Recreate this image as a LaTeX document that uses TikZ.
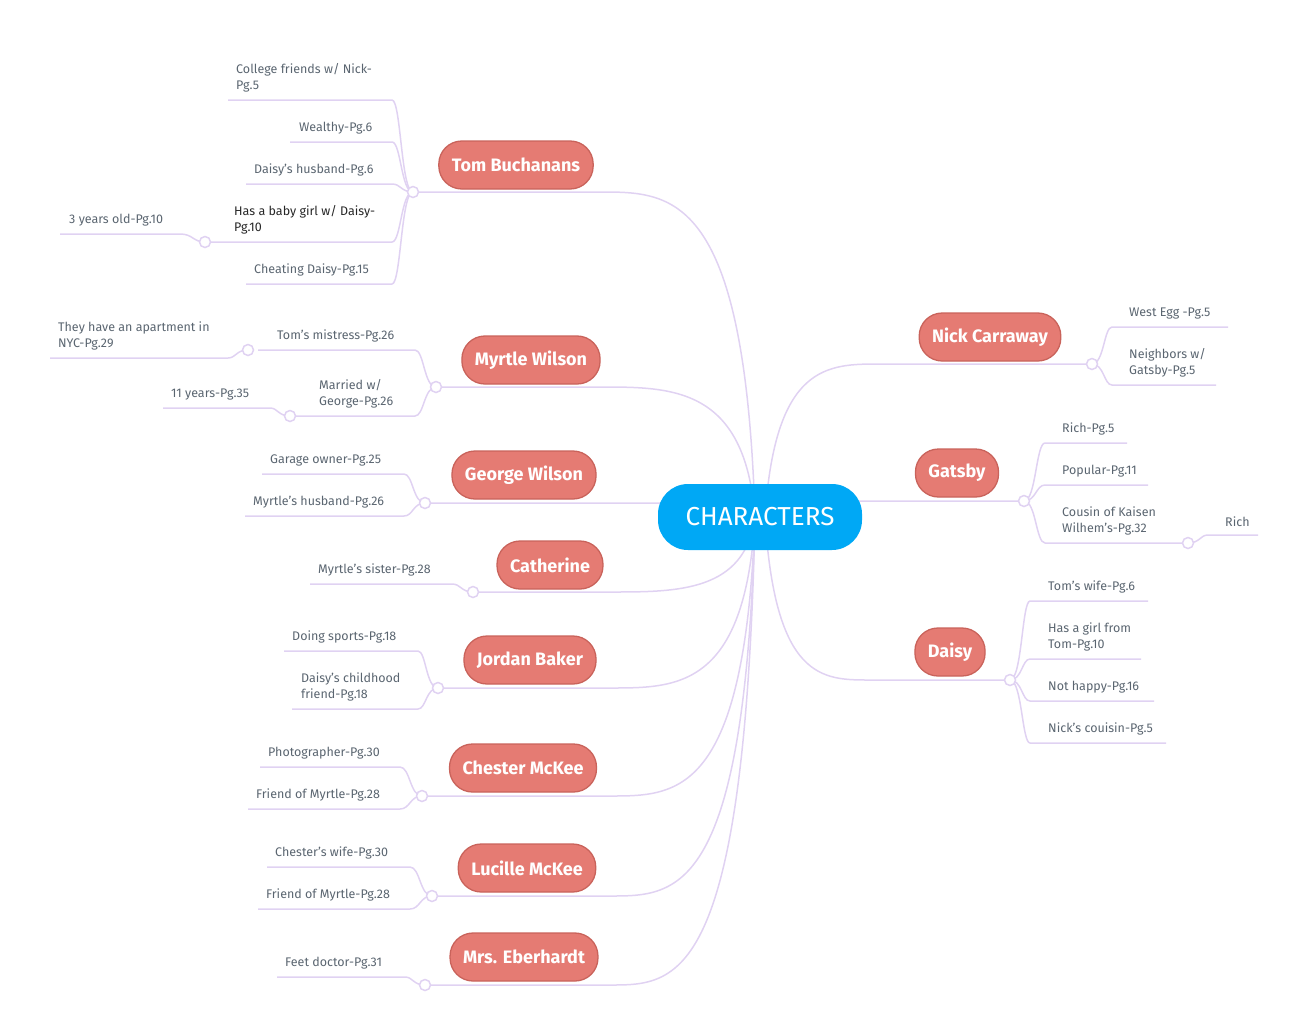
\documentclass[tikz,border=0pt]{standalone}
\usepackage{fontspec}
\setmainfont{Fira Sans}
\definecolor{br}{HTML}{E0D2F2}
\definecolor{nf}{HTML}{E57B73}
\definecolor{nd}{HTML}{C9635B}
\definecolor{cb}{HTML}{00A8F5}
\definecolor{tg}{HTML}{5A6570}
\tikzset{
 brl/.style={draw=br,line width=1.5pt},
 lf/.style={inner sep=0pt,align=left,text=tg,font=\fontsize{12.5}{16}\selectfont},
 mn/.style={fill=nf,draw=nd,line width=1.3pt,rounded corners=23pt,minimum height=48pt,inner xsep=13pt,text=white,font=\fontsize{18}{20}\selectfont\bfseries},
 jc/.style={circle,fill=white,draw=br,line width=1.5pt,minimum size=11pt,inner sep=0pt}
}
\newcommand{\leafL}[7]{\draw[brl] (#1,#2) .. controls ({#1-12},#2) and ({#1-12},#5) .. (#4,#5) -- (#3,#5);
 \node[lf,anchor=south west] at (#6,{#5-8}) {#7};}
\newcommand{\leafR}[7]{\draw[brl] (#1,#2) .. controls ({#1+12},#2) and ({#1+12},#5) .. (#3,#5) -- (#4,#5);
 \node[lf,anchor=south west] at (#6,{#5-8}) {#7};}
\newcommand{\mainL}[3]{\draw[brl] (755,517) .. controls (745,#2) and ({(745+#1)/2},#2) .. (#1,#2) -- (#3,#2);}
\newcommand{\mainR}[3]{\draw[brl] (765,517) .. controls (775,#2) and ({(775+#1)/2},#2) .. (#1,#2) -- (#3,#2);}
\begin{document}
\begin{tikzpicture}[x=1pt,y=-1pt]
\useasboundingbox (0,0) rectangle (1308,1034);
% main branches
\mainL{600}{192}{413}
\mainL{600}{387}{436}
\mainL{610}{503}{425}
\mainL{610}{592}{473}
\mainL{610}{688}{438}
\mainL{610}{796}{422}
\mainL{610}{896}{432}
\mainL{610}{985}{425}
\mainR{880}{364}{1092}
\mainR{870}{501}{1024}
\mainR{870}{680}{1010}
% Tom
\leafL{413}{192}{228}{392}{100}{236}{College friends w/ Nick-\\Pg.5}
\leafL{413}{192}{290}{392}{142}{299}{Wealthy-Pg.6}
\leafL{413}{192}{246}{392}{184}{254}{Daisy's husband-Pg.6}
\leafL{413}{192}{205}{392}{242}{234}{\color{black!85}Has a baby girl w/ Daisy-\\\color{black!85}Pg.10}
\leafL{413}{192}{246}{392}{284}{254}{Cheating Daisy-Pg.15}
\leafL{205}{242}{60}{180}{234}{69}{3 years old-Pg.10}
% Myrtle
\leafL{436}{387}{258}{415}{350}{277}{Tom's mistress-Pg.26}
\leafL{436}{387}{290}{415}{416}{319}{Married w/\\George-Pg.26}
\leafL{248}{350}{50}{228}{358}{58}{They have an apartment in\\NYC-Pg.29}
\leafL{290}{416}{163}{270}{408}{171}{11 years-Pg.35}
% George
\leafL{425}{503}{262}{404}{474}{270}{Garage owner-Pg.25}
\leafL{425}{503}{245}{404}{516}{253}{Myrtle's husband-Pg.26}
% Catherine
\leafL{473}{592}{310}{452}{584}{318}{Myrtle's sister-Pg.28}
% Jordan
\leafL{438}{688}{284}{418}{651}{292}{Doing sports-Pg.18}
\leafL{438}{688}{292}{418}{709}{301}{Daisy's childhood\\friend-Pg.18}
% Chester
\leafL{422}{796}{260}{400}{767}{268}{Photographer-Pg.30}
\leafL{422}{796}{248}{400}{809}{256}{Friend of Myrtle-Pg.28}
% Lucille
\leafL{432}{896}{267}{410}{867}{275}{Chester's wife-Pg.30}
\leafL{432}{896}{258}{410}{909}{266}{Friend of Myrtle-Pg.28}
% Eberhardt
\leafL{425}{985}{277}{405}{977}{285}{Feet doctor-Pg.31}
% Nick
\leafR{1092}{364}{1112}{1228}{327}{1129}{West Egg -Pg.5}
\leafR{1092}{364}{1112}{1216}{385}{1129}{Neighbors w/\\Gatsby-Pg.5}
% Gatsby
\leafR{1024}{501}{1045}{1127}{443}{1062}{Rich-Pg.5}
\leafR{1024}{501}{1045}{1148}{485}{1062}{Popular-Pg.11}
\leafR{1024}{501}{1045}{1188}{543}{1062}{Cousin of Kaisen\\Wilhem's-Pg.32}
\leafR{1188}{543}{1208}{1258}{535}{1225}{Rich}
% Daisy
\leafR{1010}{680}{1030}{1148}{601}{1048}{Tom's wife-Pg.6}
\leafR{1010}{680}{1030}{1141}{659}{1048}{Has a girl from\\Tom-Pg.10}
\leafR{1010}{680}{1030}{1154}{701}{1048}{Not happy-Pg.16}
\leafR{1010}{680}{1030}{1166}{743}{1048}{Nick's couisin-Pg.5}
% junction circles
\foreach \n/\p in {j1/{413,192},j2/{205,242},j3/{436,387},j4/{248,350},j5/{290,416},j6/{425,503},j7/{473,592},j8/{438,688},j9/{422,796},j10/{432,896},j11/{425,985},j12/{1092,364},j13/{1024,501},j14/{1188,543},j15/{1010,680}}
  \node[jc] (\n) at (\p) {};
% main nodes
\node[fill=cb,rounded corners=30pt,minimum width=204pt,minimum height=66pt,text=white,font=\fontsize{26}{28}\selectfont] (c) at (760,517) {CHARACTERS};
\node[mn] (tom) at (516,165) {Tom Buchanans};
\node[mn] (myr) at (531,360) {Myrtle Wilson};
\node[mn] (geo) at (524,475) {George Wilson};
\node[mn] (cat) at (550,565) {Catherine};
\node[mn] (jor) at (530,660) {Jordan Baker};
\node[mn] (che) at (523,768) {Chester McKee};
\node[mn] (luc) at (527,868) {Lucille McKee};
\node[mn] (ebe) at (524,957) {Mrs. Eberhardt};
\node[mn] (nic) at (990,337) {Nick Carraway};
\node[mn] (gat) at (957,473) {Gatsby};
\node[mn] (dai) at (950,652) {Daisy};
\end{tikzpicture}
\end{document}
